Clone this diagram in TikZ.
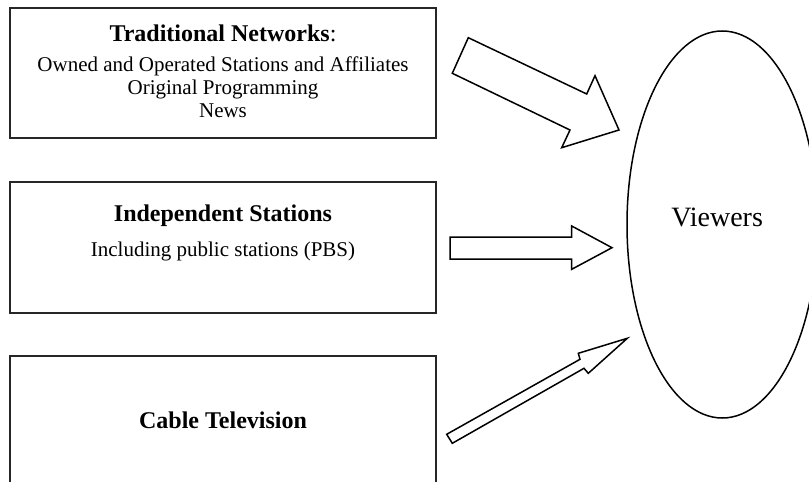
\documentclass[tikz,border=0pt]{standalone}
\usepackage{fontspec}
\setmainfont{Liberation Serif}
\usetikzlibrary{positioning,shapes.geometric}

\begin{document}
\begin{tikzpicture}[x=0.5pt,y=-0.5pt,
  box/.style={draw=black!85,line width=1pt,minimum width=213pt,minimum height=65pt,inner sep=0pt},
  fat/.style={draw=black,line width=0.75pt,line join=miter},
  head/.style={font=\fontsize{12}{14}\selectfont\bfseries},
  body/.style={font=\fontsize{10.5}{11.6}\selectfont}]
\clip (0,0) rectangle (809,482);
% Boxes
\node[box] (trad) at (223,73) {};
\node[box,minimum height=65.5pt] (indep) at (223,247.5) {};
\node[box,minimum height=67pt] (cable) at (223,423) {};
% Box texts
\node[body,align=center,anchor=north,inner sep=0pt] (tradtxt) at (223,24.8)
  {{\fontsize{12}{14}\selectfont\textbf{Traditional Networks}:}\\[3pt]
   Owned and Operated Stations and Affiliates\\ Original Programming\\ News};
\node[head,anchor=base,inner sep=0pt] (indeptxt) at (223,221.7) {Independent Stations};
\node[body,anchor=base,inner sep=0pt] (pbstxt) at (223,256) {Including public stations (PBS)};
\node[head,anchor=base,inner sep=0pt] (cabletxt) at (223,428.3) {Cable Television};
% Viewers
\node[ellipse,draw=black,line width=0.75pt,minimum width=95.3pt,minimum height=193.5pt,inner sep=0pt]
  (viewers) at (722.3,224.5) {};
\node[anchor=base,inner sep=0pt,font=\fontsize{14}{16}\selectfont] (viewtxt)
  at ([xshift=-2.6pt,yshift=-1.1pt]viewers.center) {Viewers};
% Block arrows
\draw[fat] (468.3,37.7) -- (586.7,94) -- (595,75.7) -- (619,130) -- (561.7,147.7)
  -- (570,130) -- (452.3,73.3) -- cycle;
\draw[fat] (450,237) -- (571.7,237) -- (571.7,226) -- (612,247.7) -- (571.7,269.3)
  -- (571.7,259) -- (450,259) -- cycle;
\draw[fat] (446.7,434.3) -- (580,359.3) -- (578.3,353.3) -- (627.3,338.3) -- (588.3,373.3)
  -- (584,368.3) -- (452.3,443.3) -- cycle;
\end{tikzpicture}
\end{document}
